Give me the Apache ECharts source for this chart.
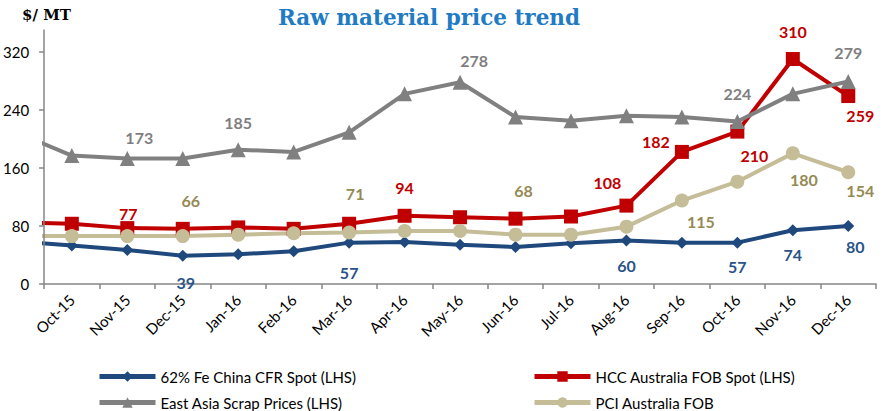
<!DOCTYPE html>
<html><head><meta charset="utf-8">
<script src="https://cdn.jsdelivr.net/npm/echarts@6/dist/echarts.min.js"></script>
<style>html,body{margin:0;padding:0;background:#fff}#c{width:883px;height:411px}</style>
</head><body><div id="c"></div>
<script>
// Months (first one, Sep-15, lies just left of the axis and is clipped by the grid)
var months = ['Sep-15','Oct-15','Nov-15','Dec-15','Jan-16','Feb-16','Mar-16','Apr-16','May-16','Jun-16','Jul-16','Aug-16','Sep-16','Oct-16','Nov-16','Dec-16'];
var ironOre = [59, 53, 47, 39, 41, 45, 57, 58, 54, 51, 56, 60, 57, 57, 74, 80];
var hcc     = [85, 83, 77, 76, 78, 76, 83, 94, 92, 90, 93, 108, 182, 210, 310, 259];
var scrap   = [209, 177, 173, 173, 185, 182, 209, 262, 278, 230, 225, 232, 230, 224, 262, 279];
var pci     = [66, 66, 66, 66, 68, 70, 71, 73, 73, 68, 68, 79, 115, 141, 180, 154];
var yTicks  = [0, 80, 160, 240, 320];
var names = ['62% Fe China CFR Spot (LHS)', 'HCC Australia FOB Spot (LHS)', 'East Asia Scrap Prices (LHS)', 'PCI Australia FOB'];

// label placement (month index -> offset from marker)
var ironLbl  = {3:[3,27], 6:[0,30], 11:[0,25], 13:[0,24], 14:[0,24], 15:[7,21]};
var hccLbl   = {2:[1,-15], 7:[0,-28], 11:[-19,-23], 12:[-26,-10], 13:[17,24], 14:[0,-28], 15:[12,19]};
var scrapLbl = {2:[12,-21], 4:[0,-27], 8:[14,-22], 13:[0,-28], 15:[0,-29]};
var pciLbl   = {3:[8,-36], 6:[6,-39], 9:[8,-44], 12:[19,21], 14:[11,26], 15:[12,18]};

var font = 'Lato';
function mk(vals, lbl, lblColor){
  return vals.map(function(v,i){
    var d = {value:[i-1, v]};
    if (lbl[i]) d.label = {show:true, position:'inside', offset:lbl[i], color:lblColor,
      fontWeight:'bold', fontSize:16, fontFamily:font, formatter: String(v)};
    return d;
  });
}
function ser(name, vals, lbl, color, lblColor, symbol, size){
  return {name:name, type:'line', xAxisIndex:1, data:mk(vals,lbl,lblColor),
    symbol:symbol, symbolSize:size, showAllSymbol:true, clip:true,
    lineStyle:{color:color, width:4}, itemStyle:{color:color},
    label:{show:false}, emphasis:{disabled:true}, z: 2};
}
function leg(name, left, top){
  return {data:[name], left:left, top:top, itemWidth:56, itemHeight:13, padding:0, lineStyle:{width:5},
    textStyle:{fontFamily:font, fontSize:15, color:'#000'}, selectedMode:false};
}
var chart = echarts.init(document.getElementById('c'), null, {renderer:'svg'});
chart.setOption({
  animation:false,
  title:{text:'Raw material price trend', left:273, top:1, textStyle:{fontFamily:'DejaVu Serif', fontWeight:'bold', fontSize:21.5, color:'#1F7BC4'}},
  graphic:[{type:'text', left:22, top:7, style:{text:'$/ MT', font:'bold 15px "DejaVu Serif"', fill:'#000'}}],
  grid:{left:43, right:7, top:30, bottom:127},
  legend:[leg(names[0], 97, 369), leg(names[2], 97, 395), leg(names[1], 532, 369), leg(names[3], 532, 395)],
  xAxis:[
    {type:'category', data:months.slice(1), boundaryGap:true,
     axisLine:{onZero:false, lineStyle:{color:'#868686', width:1.5}},
     axisTick:{show:true, interval:0, length:5, lineStyle:{color:'#868686', width:1.5}},
     axisLabel:{interval:0, rotate:45, margin:13, fontFamily:font, fontSize:15, color:'#000'},
     splitLine:{show:false}},
    {type:'value', min:-0.5, max:months.length-1.5, show:false}
  ],
  yAxis:{type:'value', min:0, max:350, z:5,
    axisLine:{show:true, onZero:false, lineStyle:{color:'#868686', width:1.5}},
    axisTick:{show:true, length:5, customValues:yTicks, lineStyle:{color:'#868686', width:1.5}},
    axisLabel:{customValues:yTicks, margin:15, fontFamily:font, fontSize:15, color:'#000'},
    splitLine:{show:false}},
  series:[
    ser(names[0], ironOre, ironLbl, '#1F497D', '#2A5389', 'diamond', 12),
    ser(names[1], hcc, hccLbl, '#C00000', '#C00000', 'rect', 14),
    ser(names[2], scrap, scrapLbl, '#808080', '#7F7F7F', 'triangle', 15),
    ser(names[3], pci, pciLbl, '#C4BD97', '#948A54', 'circle', 14)
  ]
});
</script></body></html>
